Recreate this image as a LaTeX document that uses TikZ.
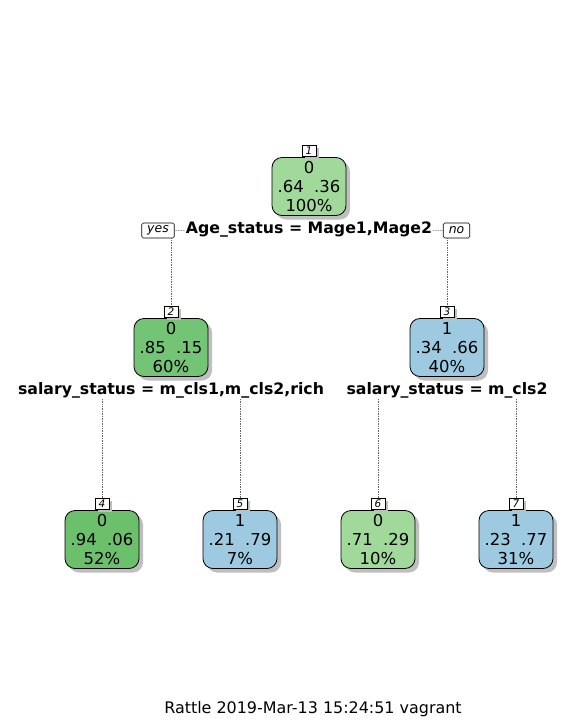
\documentclass[tikz,border=0pt]{standalone}
\usepackage{fontspec}
\setmainfont{DejaVu Sans}
\usepackage{tikz}
\usetikzlibrary{shadows}

\definecolor{gnlight}{HTML}{A1D99B}
\definecolor{gnmid}{HTML}{74C476}
\definecolor{gndark}{HTML}{6CC06C}
\definecolor{bulight}{HTML}{9ECAE1}

\tikzset{
	leaf/.style={draw, line width=0.8bp, rounded corners=10bp, minimum width=74bp, minimum height=58bp, inner sep=0pt, align=center,
		font=\fontsize{16.5}{19}\selectfont, drop shadow={shadow xshift=4bp, shadow yshift=-4bp, fill=black!25, opacity=1}},
	tag/.style={draw, fill=white, line width=0.6bp, minimum width=14bp, minimum height=11bp, inner sep=0pt,
		font=\fontsize{10.5}{11}\itshape, drop shadow={shadow xshift=3bp, shadow yshift=-3bp, fill=black!25, opacity=1}},
	yesno/.style={draw, fill=white, line width=0.6bp, rounded corners=1.5bp, minimum height=15bp, inner xsep=5.5bp, inner ysep=1pt, font=\fontsize{12.5}{13}\itshape},
	split/.style={font=\fontsize{15.8}{17}\bfseries, inner sep=1pt},
	link/.style={densely dotted, black!60, line width=0.7bp}
}

\begin{document}
\begin{tikzpicture}[x=1bp, y=-1bp]
	\useasboundingbox (0,0) rectangle (588,721);
	%root
	\node[leaf, fill=gnlight] (n1) at (309,186.5) {0\\.64\ \ .36\\100\%};
	\node[tag] (l1) at (309,150.5) {1};
	\node[split] (s1) at (309,230) {Age\_status = Mage1,Mage2};
	\node[yesno] (yes) at (158,230.5) {yes};
	\node[yesno] (no) at (456.5,230.5) {no};
	\draw[link] (yes) -- (s1);
	\draw[link] (s1) -- (no);
	%second level
	\node[leaf, fill=gnmid] (n2) at (171,347.5) {0\\.85\ \ .15\\60\%};
	\node[tag] (l2) at (171,311.5) {2};
	\node[leaf, fill=bulight] (n3) at (447,347.5) {1\\.34\ \ .66\\40\%};
	\node[tag] (l3) at (447,311.5) {3};
	\draw[link] (yes.south -| l2.north) -- (l2.north);
	\draw[link] (no.south -| l3.north) -- (l3.north);
	\node[split] (s2) at (171,390) {salary\_status = m\_cls1,m\_cls2,rich};
	\node[split] (s3) at (447,390) {salary\_status = m\_cls2};
	%leaves
	\node[leaf, fill=gndark] (n4) at (102,539.5) {0\\.94\ \ .06\\52\%};
	\node[tag] (l4) at (102,503.5) {4};
	\node[leaf, fill=bulight] (n5) at (240,539.5) {1\\.21\ \ .79\\7\%};
	\node[tag] (l5) at (240,503.5) {5};
	\node[leaf, fill=gnlight] (n6) at (378,539.5) {0\\.71\ \ .29\\10\%};
	\node[tag] (l6) at (378,503.5) {6};
	\node[leaf, fill=bulight] (n7) at (516,539.5) {1\\.23\ \ .77\\31\%};
	\node[tag] (l7) at (516,503.5) {7};
	\draw[link] (s2.south -| l4.north) -- (l4.north);
	\draw[link] (s2.south -| l5.north) -- (l5.north);
	\draw[link] (s3.south -| l6.north) -- (l6.north);
	\draw[link] (s3.south -| l7.north) -- (l7.north);
	\node[font=\fontsize{16}{18}\selectfont] (cap) at (313,709) {Rattle 2019-Mar-13 15:24:51 vagrant};
\end{tikzpicture}
\end{document}
